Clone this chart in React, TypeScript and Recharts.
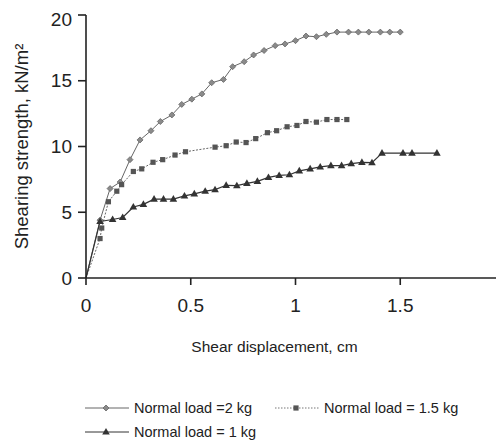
import React from "react";
import {
  LineChart,
  Line,
  XAxis,
  YAxis,
  Legend,
  Label,
} from "recharts";

// shear displacement (cm) and shearing strength (kN/m²) per normal load
const disp2kg = [0, 0.067, 0.115, 0.163, 0.21, 0.258, 0.31, 0.355, 0.41, 0.457, 0.505, 0.553, 0.6, 0.656, 0.7, 0.755, 0.8, 0.85, 0.903, 0.95, 1.0, 1.05, 1.1, 1.147, 1.198, 1.253, 1.3, 1.35, 1.405, 1.45, 1.5];
const strength2kg = [0, 4.4, 6.8, 7.3, 9.0, 10.5, 11.2, 11.9, 12.4, 13.2, 13.6, 14.0, 14.85, 15.1, 16.07, 16.45, 16.96, 17.3, 17.67, 17.8, 18.05, 18.4, 18.35, 18.53, 18.7, 18.7, 18.7, 18.7, 18.7, 18.7, 18.7];

const disp15kg = [0, 0.067, 0.075, 0.107, 0.147, 0.17, 0.226, 0.266, 0.32, 0.366, 0.425, 0.475, 0.616, 0.669, 0.717, 0.764, 0.81, 0.866, 0.91, 0.96, 1.007, 1.05, 1.1, 1.15, 1.198, 1.245];
const strength15kg = [0, 3.0, 3.8, 5.8, 6.6, 7.1, 8.1, 8.3, 8.8, 9.0, 9.35, 9.6, 9.95, 10.06, 10.34, 10.3, 10.6, 11.05, 11.2, 11.5, 11.6, 11.9, 11.85, 12.05, 12.05, 12.05];

const disp1kg = [0, 0.067, 0.127, 0.175, 0.226, 0.274, 0.325, 0.37, 0.417, 0.47, 0.517, 0.569, 0.616, 0.669, 0.72, 0.768, 0.818, 0.871, 0.922, 0.971, 1.018, 1.07, 1.118, 1.169, 1.22, 1.266, 1.317, 1.365, 1.413, 1.513, 1.556, 1.675];
const strength1kg = [0, 4.3, 4.45, 4.6, 5.4, 5.6, 6.0, 6.0, 6.0, 6.24, 6.4, 6.6, 6.72, 7.05, 7.02, 7.2, 7.35, 7.65, 7.8, 7.85, 8.15, 8.3, 8.45, 8.55, 8.55, 8.7, 8.8, 8.77, 9.5, 9.5, 9.5, 9.5];

const xTicks = [0, 0.5, 1, 1.5, 2];
const yTicks = [0, 5, 10, 15, 20];

const seriesNames = ["Normal load =2 kg", "Normal load = 1.5 kg", "Normal load = 1 kg"];

const toPoints = (xs: number[], ys: number[]) => xs.map((x, i) => ({ x, y: ys[i] }));

const data2kg = toPoints(disp2kg, strength2kg);
const data15kg = toPoints(disp15kg, strength15kg);
const data1kg = toPoints(disp1kg, strength1kg);

const FONT = "'Liberation Sans', Arial, sans-serif";

const Diamond = ({ cx, cy, payload }: any) => {
  if (cx == null || !payload || payload.y === 0) return null;
  return (
    <path
      d={`M${cx},${cy - 3} L${cx + 3},${cy} L${cx},${cy + 3} L${cx - 3},${cy} Z`}
      fill="#8a8a8a"
      stroke="#666"
      strokeWidth={0.8}
    />
  );
};

const Square = ({ cx, cy, payload }: any) => {
  if (cx == null || !payload || payload.y === 0) return null;
  return <rect x={cx - 2.6} y={cy - 2.6} width={5.2} height={5.2} fill="#555" />;
};

const Triangle = ({ cx, cy, payload }: any) => {
  if (cx == null || !payload || payload.y === 0) return null;
  return <path d={`M${cx},${cy - 4} L${cx + 3.8},${cy + 2.6} L${cx - 3.8},${cy + 2.6} Z`} fill="#333" />;
};

const LegendIcon = ({ kind }: { kind: number }) => (
  <svg width={44} height={10} style={{ marginRight: 5 }}>
    <line
      x1={0}
      y1={5}
      x2={44}
      y2={5}
      stroke={kind === 1 ? "#777" : kind === 0 ? "#666" : "#333"}
      strokeWidth={1}
      strokeDasharray={kind === 1 ? "1.5 1.5" : undefined}
    />
    {kind === 0 && <Diamond cx={21} cy={5} payload={{ y: 1 }} />}
    {kind === 1 && <Square cx={21} cy={5} payload={{ y: 1 }} />}
    {kind === 2 && <Triangle cx={21} cy={5} payload={{ y: 1 }} />}
  </svg>
);

const LegendEntry = ({ kind, width }: { kind: number; width: number }) => (
  <div style={{ display: "flex", alignItems: "center", width, height: 24 }}>
    <LegendIcon kind={kind} />
    <span>{seriesNames[kind]}</span>
  </div>
);

const renderLegend = () => (
  <div style={{ fontFamily: FONT, fontSize: 14.5, color: "#222" }}>
    <div style={{ display: "flex" }}>
      <LegendEntry kind={0} width={190} />
      <LegendEntry kind={1} width={210} />
    </div>
    <LegendEntry kind={2} width={190} />
  </div>
);

const YTitle = ({ viewBox }: any) => {
  const cx = 13;
  const cy = viewBox.y + viewBox.height / 2;
  return (
    <text
      x={cx}
      y={cy}
      transform={`rotate(-90, ${cx}, ${cy})`}
      textAnchor="middle"
      dominantBaseline="central"
      fontFamily={FONT}
      fontSize={18.5}
      fill="#222"
    >
      Shearing strength, kN/m²
    </text>
  );
};

export default function App() {
  return (
    <div style={{ width: 496, height: 438, overflow: "hidden" }}>
      <LineChart
        width={520}
        height={438}
        margin={{ top: 7, right: 23, left: 0, bottom: 88 }}
      >
        <XAxis
          type="number"
          dataKey="x"
          domain={[0, 2]}
          ticks={xTicks}
          allowDuplicatedCategory={false}
          axisLine={{ stroke: "#222", strokeWidth: 1.6 }}
          tickLine={{ stroke: "#222", strokeWidth: 1.6 }}
          tickSize={7}
          tickMargin={14}
          height={80}
          tick={{ fontFamily: FONT, fontSize: 19, fill: "#222" }}
        >
          <Label
            value="Shear displacement, cm"
            position="insideBottom"
            offset={6}
            dx={-21}
            style={{ fontFamily: FONT, fontSize: 15.5, fill: "#222" }}
          />
        </XAxis>
        <YAxis
          type="number"
          dataKey="y"
          domain={[0, 20]}
          ticks={yTicks}
          width={78}
          axisLine={{ stroke: "#222", strokeWidth: 1.6 }}
          tickLine={{ stroke: "#222", strokeWidth: 1.6 }}
          tickSize={8}
          tickMargin={6}
          tick={{ fontFamily: FONT, fontSize: 19, fill: "#222" }}
        >
          <Label content={<YTitle />} />
        </YAxis>
        <Legend
          layout="vertical"
          verticalAlign="middle"
          align="center"
          content={renderLegend}
          wrapperStyle={{ position: "absolute", left: 77, top: 388, width: 430, height: 50 }}
        />
        <Line
          data={data2kg}
          dataKey="y"
          name={seriesNames[0]}
          type="linear"
          stroke="#666"
          strokeWidth={1}
          dot={<Diamond />}
          activeDot={false}
          isAnimationActive={false}
        />
        <Line
          data={data15kg}
          dataKey="y"
          name={seriesNames[1]}
          type="linear"
          stroke="#666"
          strokeWidth={1}
          strokeDasharray="2 1.5"
          dot={<Square />}
          activeDot={false}
          isAnimationActive={false}
        />
        <Line
          data={data1kg}
          dataKey="y"
          name={seriesNames[2]}
          type="linear"
          stroke="#333"
          strokeWidth={1.2}
          dot={<Triangle />}
          activeDot={false}
          isAnimationActive={false}
        />
      </LineChart>
    </div>
  );
}
